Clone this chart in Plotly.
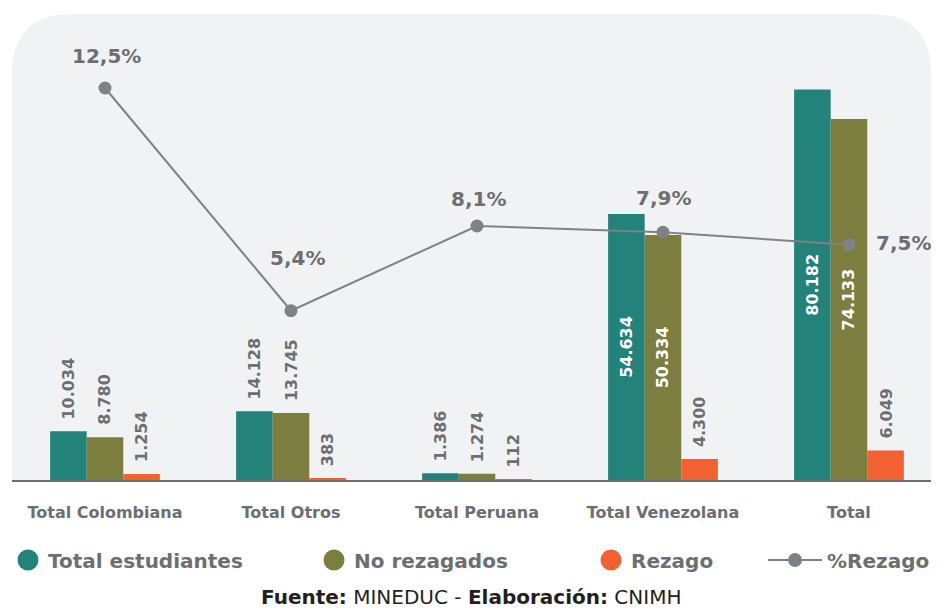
import plotly.graph_objects as go

# data
categories = ["Total Colombiana", "Total Otros", "Total Peruana", "Total Venezolana", "Total"]
total_estudiantes = [10034, 14128, 1386, 54634, 80182]
no_rezagados = [8780, 13745, 1274, 50334, 74133]
rezago = [1254, 383, 112, 4300, 6049]
pct_rezago = [12.5, 5.4, 8.1, 7.9, 7.5]

TEAL = "#23827a"
OLIVE = "#7b7e3e"
ORANGE = "#f26131"
LINE_GRAY = "#808184"
TEXT_GRAY = "#6d6e71"
PANEL = "#f1f2f4"
FONT = "DejaVu Sans"

# the page body adds an 8px margin, so the figure is sized to the visible part
W, H = 931, 603
ML, MR, MT, MB = 4, 8, 6, 131
BARGAP = 0.41
INSIDE_MIN = 40000     # bars taller than this carry their label inside

fig = go.Figure()

series = [
    ("Total estudiantes", total_estudiantes, TEAL),
    ("No rezagados", no_rezagados, OLIVE),
    ("Rezago", rezago, ORANGE),
]

bar_w = (1 - BARGAP) / len(series)
annotations = []

for k, (name, vals, color) in enumerate(series):
    fig.add_trace(go.Bar(
        x=categories,
        y=vals,
        name=name,
        marker=dict(color=color, line=dict(width=0)),
        texttemplate="%{y:,}",
        textposition=["inside" if v > INSIDE_MIN else "none" for v in vals],
        textangle=-90,
        insidetextanchor="middle",
        insidetextfont=dict(family=FONT, size=16, color="white", weight="bold"),
        showlegend=False,
    ))
    # labels above the shorter bars
    for i, v in enumerate(vals):
        if v > INSIDE_MIN:
            continue
        annotations.append(dict(
            x=i + (k - 1) * bar_w, y=v, xref="x", yref="y",
            text=f"{v:,}".replace(",", "."),
            textangle=-90, showarrow=False,
            yanchor="bottom", xanchor="center", yshift=10,
            font=dict(family=FONT, size=16, color=TEXT_GRAY, weight="bold"),
        ))

fig.add_trace(go.Scatter(
    x=categories,
    y=pct_rezago,
    yaxis="y2",
    mode="lines+markers",
    line=dict(color=LINE_GRAY, width=2),
    marker=dict(color=LINE_GRAY, size=13),
    name="%Rezago",
    showlegend=False,
    cliponaxis=False,
))

# percent labels, offsets in px from each point
pct_shift = [(1, 32), (7, 53), (2, 27), (1, 34), (55, 2)]
for i, (p, (dx, dy)) in enumerate(zip(pct_rezago, pct_shift)):
    annotations.append(dict(
        x=i, y=p, xref="x", yref="y2",
        text=f"{p:.1f}%".replace(".", ","),
        showarrow=False, xshift=dx, yshift=dy,
        font=dict(family=FONT, size=20, color=TEXT_GRAY, weight="bold"),
    ))

# legend: one legend per entry so they can be spaced like the original
legend_items = [
    ("Total estudiantes", TEAL, "markers", 0),
    ("No rezagados", OLIVE, "markers", 306),
    ("Rezago", ORANGE, "markers", 583),
    ("%Rezago", LINE_GRAY, "lines+markers", 755),
]
for n, (name, color, mode, px) in enumerate(legend_items):
    lg = "legend" if n == 0 else f"legend{n + 1}"
    if mode == "markers":
        mk = dict(color=color, size=16, line=dict(color=color, width=5))
    else:
        mk = dict(color=color, size=14)
    fig.add_trace(go.Scatter(
        x=[None], y=[None], mode=mode, name=name,
        marker=mk, line=dict(color=color, width=2),
        legend=lg, showlegend=True,
    ))
    fig.layout[lg] = dict(
        orientation="h", xref="container", yref="container",
        x=px / W, y=1 - 552 / H, xanchor="left", yanchor="middle",
        bgcolor="rgba(0,0,0,0)", borderwidth=0,
        itemwidth=54 if mode != "markers" else 30,
        font=dict(family=FONT, size=20, color=TEXT_GRAY, weight="bold"),
    )

annotations.append(dict(
    x=0.5, y=(472 - 575) / 466, xref="paper", yref="paper",
    text="<b>Fuente:</b> MINEDUC - <b>Elaboración:</b> CNIMH",
    showarrow=False, xanchor="center", yanchor="top",
    font=dict(family=FONT, size=20, color="#231f20"),
))

# rounded panel behind the plot area
rx, ry = 60 / (W - ML - MR), 60 / (H - MT - MB)
panel_path = (f"M 0,0 L 0,{1 - ry} Q 0,1 {rx},1 L {1 - rx},1 "
              f"Q 1,1 1,{1 - ry} L 1,0 Z")

fig.update_layout(
    width=W, height=H,
    margin=dict(l=ML, r=MR, t=MT, b=MB),
    paper_bgcolor="white",
    plot_bgcolor="rgba(0,0,0,0)",
    barmode="group",
    bargap=BARGAP,
    bargroupgap=0,
    separators=",.",
    shapes=[dict(type="path", path=panel_path, xref="paper", yref="paper",
                 fillcolor=PANEL, line=dict(width=0), layer="below")],
    annotations=annotations,
    xaxis=dict(
        type="category", range=[-0.5, 4.441],
        showline=True, linecolor=TEXT_GRAY, linewidth=2,
        ticks="outside", ticklen=17, tickcolor="rgba(0,0,0,0)",
        showgrid=False, zeroline=False,
        tickfont=dict(family=FONT, size=16, color=TEXT_GRAY, weight="bold"),
    ),
    yaxis=dict(range=[0, 95700], visible=False, showgrid=False),
    yaxis2=dict(range=[0, 14.86], overlaying="y", side="right",
                visible=False, showgrid=False),
)

fig.write_html("out.html")
